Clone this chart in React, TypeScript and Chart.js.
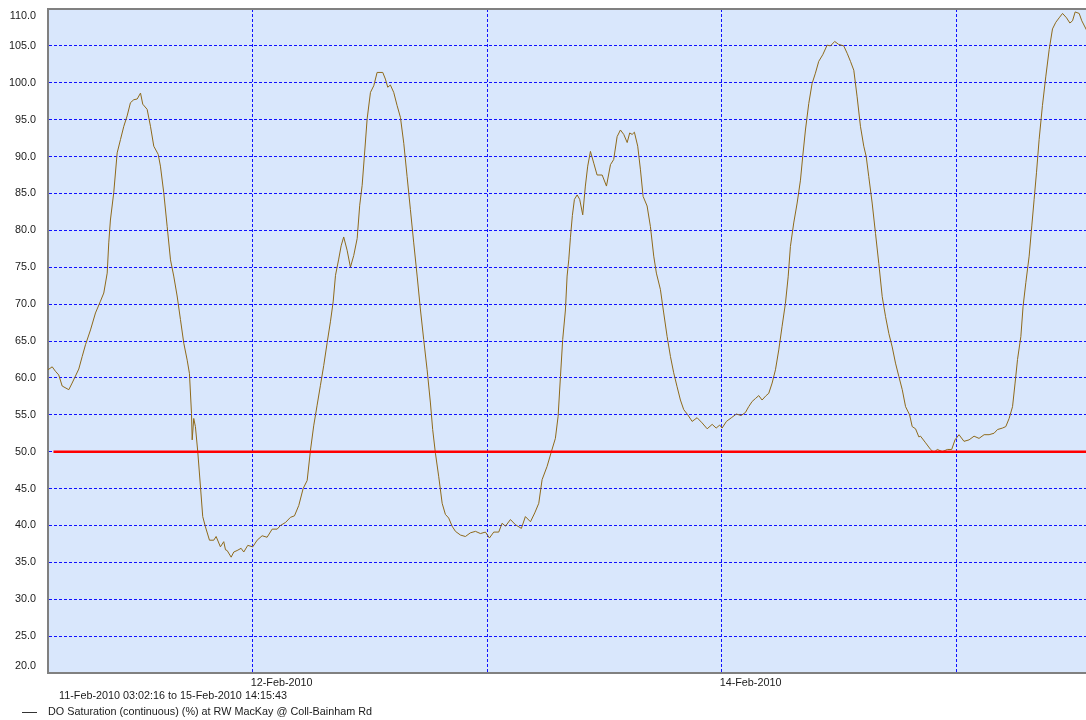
import React, { useEffect, useRef } from "react";
import { Chart, registerables } from "chart.js";

Chart.register(...registerables);

// Time in hours since 11-Feb-2010 00:00
const timeHours = [
  3.04, 3.47, 3.8, 4.14, 4.49, 5.17, 5.51, 6.19, 6.54, 6.88, 7.39, 7.9, 8.41, 8.75, 9.1, 9.26, 9.43, 9.77,
  10.12, 10.46, 10.8, 11.14, 11.48, 11.82, 12.17, 12.51, 12.74, 13.19, 13.53, 13.87, 14.32, 14.55, 14.89,
  15.24, 15.58, 15.91, 16.26, 16.6, 16.94, 17.29, 17.52, 17.73, 17.8, 17.96, 18.13, 18.37, 18.65, 18.88,
  19.16, 19.57, 20.01, 20.25, 20.69, 21.03, 21.21, 21.38, 21.79, 22.06, 22.4, 22.81, 23.08, 23.49, 24.0,
  24.45, 24.96, 25.47, 25.99, 26.5, 26.84, 27.35, 27.86, 28.27, 28.71, 29.16, 29.57, 29.91, 30.24, 30.59,
  30.93, 31.27, 31.62, 31.95, 32.23, 32.47, 32.8, 33.05, 33.31, 33.66, 34.0, 34.34, 34.69, 34.95, 35.2,
  35.43, 35.71, 36.05, 36.39, 36.73, 37.31, 37.58, 37.82, 38.09, 38.43, 38.78, 39.12, 39.46, 39.8, 40.14,
  40.48, 40.83, 41.17, 41.5, 41.85, 42.19, 42.42, 42.7, 43.04, 43.39, 43.72, 44.06, 44.41, 44.75, 45.26,
  45.77, 46.28, 46.8, 47.31, 47.82, 48.23, 48.67, 49.18, 49.53, 49.87, 50.38, 50.89, 51.5, 51.91, 52.43,
  52.87, 53.28, 53.62, 54.13, 54.57, 54.98, 55.26, 55.5, 55.73, 56.01, 56.18, 56.35, 56.52, 56.72, 56.93,
  57.21, 57.47, 57.78, 58.05, 58.29, 58.57, 58.91, 59.25, 59.77, 60.21, 60.62, 60.95, 61.3, 61.64, 61.98,
  62.33, 62.59, 62.84, 63.07, 63.41, 63.69, 63.96, 64.37, 64.71, 65.05, 65.32, 65.73, 66.07, 66.42, 66.76,
  67.09, 67.44, 67.78, 68.12, 68.53, 68.98, 69.49, 70.0, 70.52, 71.03, 71.44, 71.8, 72.05, 72.49, 73.0,
  73.51, 73.99, 74.43, 74.77, 75.12, 75.46, 75.8, 76.14, 76.55, 76.82, 77.17, 77.51, 77.85, 78.19, 78.53,
  78.81, 79.04, 79.38, 79.73, 80.07, 80.3, 80.58, 80.92, 81.26, 81.6, 81.94, 82.35, 82.8, 83.14, 83.57,
  83.98, 84.5, 84.85, 85.19, 85.53, 85.87, 86.21, 86.55, 86.8, 87.06, 87.41, 87.75, 88.09, 88.44, 88.78,
  89.12, 89.46, 89.8, 90.14, 90.49, 90.83, 91.24, 91.51, 91.85, 92.19, 92.36, 92.88, 93.39, 93.73, 94.08,
  94.6, 95.11, 95.55, 95.89, 96.3, 96.81, 97.33, 97.84, 98.35, 98.87, 99.38, 99.89, 100.24, 100.75, 101.09,
  101.43, 101.78, 102.04, 102.29, 102.63, 102.86, 103.14, 103.48, 103.75, 103.99, 104.23, 104.5, 104.84,
  105.19, 105.53, 105.87, 106.21, 106.55, 106.9, 107.31, 107.65, 107.92, 108.19, 108.6, 108.87, 109.41,
];

// DO saturation (%)
const doSaturation = [
  61.1, 61.5, 60.9, 60.4, 58.9, 58.4, 59.3, 61.2, 62.9, 64.5, 66.5, 68.8, 70.4, 71.5, 74.2, 78.3, 81.4, 85.1,
  90.5, 92.3, 94.1, 95.5, 97.3, 97.7, 97.8, 98.6, 97.1, 96.4, 94.1, 91.4, 90.3, 88.7, 85.1,
  80.5, 76.0, 73.8, 71.1, 67.9, 64.7, 62.4, 60.6, 55.2, 51.6, 54.5, 53.4, 50.0, 45.2, 41.2,
  39.8, 38.0, 38.0, 38.5, 37.1, 37.8, 36.7, 36.6, 35.7, 36.4, 36.6, 36.9, 36.4, 37.3, 37.1,
  38.0, 38.6, 38.4, 39.5, 39.5, 40.0, 40.4, 41.1, 41.3, 42.7, 45.0, 46.1, 50.2, 53.5, 56.3,
  59.0, 61.7, 64.8, 67.6, 70.3, 73.9, 76.1, 77.9, 79.1, 77.3, 75.0, 76.6, 78.9, 83.4, 86.1,
  90.1, 95.1, 98.7, 99.6, 101.4, 101.4, 100.5, 99.4, 99.7, 98.7, 96.9, 95.3, 91.8, 87.3, 82.8,
  78.3, 73.8, 69.2, 65.2, 61.1, 56.6, 53.0, 49.8, 46.6, 43.0, 41.5, 41.0, 39.9, 39.2, 38.7,
  38.5, 39.0, 39.2, 38.9, 39.1, 38.3, 39.1, 39.1, 40.3, 39.9, 40.8, 40.1, 39.6, 41.2, 40.5,
  41.7, 43.0, 46.2, 48.0, 50.0, 51.8, 54.8, 60.2, 65.2, 69.2, 73.8, 76.0, 79.0, 82.0, 84.2,
  84.8, 84.2, 82.1, 86.0, 88.7, 90.7, 89.1, 87.5, 87.5, 86.0, 88.9, 89.6, 92.7, 93.6, 93.0,
  91.9, 93.2, 93.0, 93.3, 91.4, 88.2, 84.6, 83.3, 80.5, 76.5, 74.2, 72.0, 68.8, 65.6, 62.9,
  60.7, 58.8, 57.0, 55.7, 55.0, 54.1, 54.6, 53.9, 53.1, 53.7, 53.2, 53.6, 53.2, 54.1, 54.6,
  55.1, 54.9, 55.3, 56.1, 56.8, 57.2, 57.6, 57.0, 57.6, 57.9, 59.3, 61.1, 63.8, 67.0, 70.1,
  73.7, 77.8, 81.0, 83.7, 86.8, 90.0, 93.6, 97.2, 99.9, 101.3, 102.9, 103.8, 105.1, 105.0, 105.6,
  105.2, 105.0, 104.0, 102.9, 101.7, 98.1, 94.1, 91.4, 90.0, 87.3, 83.7, 79.6, 75.5, 71.0, 68.3,
  66.0, 64.2, 62.0, 60.2, 58.4, 56.1, 55.0, 53.4, 53.1, 52.0, 52.1, 51.2, 50.3, 49.9, 50.3,
  50.0, 50.3, 50.3, 51.6, 52.3, 51.4, 51.6, 52.1, 51.8, 52.3, 52.3, 52.5, 53.0, 53.2, 53.4,
  54.5, 56.1, 59.3, 62.5, 65.6, 69.7, 72.9, 76.5, 80.6, 84.2, 87.8, 92.3, 96.9,
  100.9, 104.5, 107.3, 108.2, 108.8, 109.4, 108.8, 108.1, 108.4, 109.6, 109.4, 108.4, 107.0,
];

const thresholdHours = [3.6, 112];
const thresholdValues = [50, 50];

const yTickValues = [20, 25, 30, 35, 40, 45, 50, 55, 60, 65, 70, 75, 80, 85, 90, 95, 100, 105, 110];
const dayTickHours = [24, 48, 72, 96];
const dayTickLabels = ["12-Feb-2010", "", "14-Feb-2010", ""];
const rangeText = "11-Feb-2010 03:02:16 to 15-Feb-2010 14:15:43";
const seriesLabel = "DO Saturation (continuous) (%) at RW MacKay @ Coll-Bainham Rd";

const X_MIN = 3.04;
const X_MAX = 109.3;
const FONT = '10.8px "Liberation Sans", Arial, sans-serif';

const decorPlugin = {
  id: "decor",
  beforeDraw(chart: any) {
    const { ctx, chartArea: a } = chart;
    ctx.save();
    ctx.fillStyle = "#d9e7fc";
    ctx.fillRect(a.left, a.top, a.right - a.left, a.bottom - a.top);
    ctx.restore();
  },
  afterDraw(chart: any) {
    const { ctx, chartArea: a, scales } = chart;
    ctx.save();
    ctx.strokeStyle = "#808080";
    ctx.lineWidth = 2;
    ctx.beginPath();
    ctx.moveTo(a.left - 1, a.top);
    ctx.lineTo(a.right, a.top);
    ctx.stroke();

    ctx.font = FONT;
    ctx.fillStyle = "#1a1a1a";
    ctx.textAlign = "right";
    ctx.textBaseline = "middle";
    for (const v of yTickValues) {
      let y = scales.y.getPixelForValue(v);
      y = Math.min(Math.max(y, a.top + 7), a.bottom - 7);
      ctx.fillText(v.toFixed(1), 36, y);
    }
    ctx.textAlign = "left";
    dayTickHours.forEach((h, i) => {
      if (dayTickLabels[i]) ctx.fillText(dayTickLabels[i], scales.x.getPixelForValue(h) - 2, a.bottom + 10);
    });
    ctx.fillText(rangeText, 59, a.bottom + 23);

    ctx.strokeStyle = "#333333";
    ctx.lineWidth = 1;
    ctx.beginPath();
    ctx.moveTo(22, 712.5);
    ctx.lineTo(37, 712.5);
    ctx.stroke();
    ctx.fillText(seriesLabel, 48, 712);
    ctx.restore();
  },
};

export default function App() {
  const canvasRef = useRef<HTMLCanvasElement | null>(null);

  useEffect(() => {
    if (!canvasRef.current) return;
    const chart = new Chart(canvasRef.current, {
      type: "line",
      data: {
        datasets: [
          {
            label: "Threshold",
            data: thresholdHours.map((h, i) => ({ x: h, y: thresholdValues[i] })),
            borderColor: "#ff0000",
            borderWidth: 2.5,
            pointRadius: 0,
          },
          {
            label: seriesLabel,
            data: timeHours.map((h, i) => ({ x: h, y: doSaturation[i] })),
            borderColor: "#8f6a1a",
            borderWidth: 1,
            pointRadius: 0,
            tension: 0,
          },
        ],
      },
      options: {
        responsive: false,
        animation: false,
        devicePixelRatio: 1,
        layout: { padding: { top: 9, right: 0, bottom: 0, left: 0 } },
        plugins: { legend: { display: false }, tooltip: { enabled: false } },
        scales: {
          x: {
            type: "linear",
            min: X_MIN,
            max: X_MAX,
            afterBuildTicks: (scale: any) => {
              scale.ticks = dayTickHours.map((v) => ({ value: v }));
            },
            afterFit: (scale: any) => {
              scale.height = 47;
            },
            ticks: { display: false },
            grid: { color: "#1010ff", lineWidth: 1, drawTicks: false },
            border: { display: true, color: "#808080", width: 2, dash: [3, 2] },
          },
          y: {
            min: 20,
            max: 110,
            afterBuildTicks: (scale: any) => {
              scale.ticks = yTickValues.map((v) => ({ value: v }));
            },
            afterFit: (scale: any) => {
              scale.width = 48;
            },
            ticks: { display: false },
            grid: { color: "#1010ff", lineWidth: 1, drawTicks: false },
            border: { display: true, color: "#808080", width: 2, dash: [3, 2] },
          },
        },
      },
      plugins: [decorPlugin],
    });
    return () => chart.destroy();
  }, []);

  return (
    <div style={{ position: "absolute", left: 0, top: 0, width: 1086, height: 720, overflow: "hidden", background: "#ffffff" }}>
      <canvas ref={canvasRef} width={1086} height={720} style={{ width: 1086, height: 720, display: "block" }} />
    </div>
  );
}
